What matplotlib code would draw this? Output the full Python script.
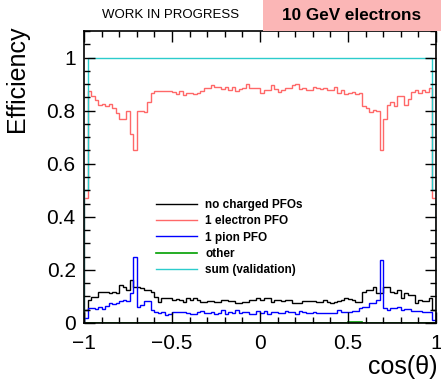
import numpy as np
import matplotlib
matplotlib.use('Agg')
import matplotlib.pyplot as plt
from matplotlib.ticker import MultipleLocator
from matplotlib.patches import Rectangle

plt.rcParams['font.family'] = ['Liberation Sans', 'DejaVu Sans']

# 100 bins in cos(theta), width 0.02
edges = np.linspace(-1, 1, 101)

#1 electron PFO
electron = [0.47,
    0.873, 0.855, 0.84, 0.823, 0.826, 0.818, 0.825, 0.81, 0.79, 0.77,
    0.77, 0.80, 0.713, 0.653, 0.797, 0.797, 0.795, 0.834, 0.868, 0.873,
    0.873, 0.875, 0.875, 0.875, 0.870, 0.862, 0.873, 0.860, 0.868, 0.868,
    0.864, 0.866, 0.873, 0.886, 0.886, 0.895, 0.89, 0.89, 0.882, 0.89,
    0.879, 0.89, 0.873, 0.882, 0.886, 0.90, 0.886, 0.884, 0.884, 0.867,
    0.879, 0.879, 0.895, 0.883, 0.872, 0.879, 0.886, 0.886, 0.895, 0.90,
    0.883, 0.886, 0.879, 0.879, 0.89, 0.886, 0.883, 0.886, 0.879, 0.879,
    0.89, 0.867, 0.876, 0.862, 0.867, 0.870, 0.862, 0.867, 0.816, 0.81,
    0.795, 0.804, 0.80, 0.653, 0.77, 0.82, 0.833, 0.816, 0.854, 0.854,
    0.823, 0.845, 0.87, 0.877, 0.867, 0.877, 0.87, 0.885, 0.47]

#no charged PFOs
nocharged = [0.05,
    0.085, 0.099, 0.099, 0.118, 0.115, 0.115, 0.113, 0.118, 0.113, 0.143,
    0.137, 0.125, 0.162, 0.137, 0.137, 0.131, 0.125, 0.125, 0.118, 0.099,
    0.08, 0.093, 0.093, 0.093, 0.087, 0.09, 0.087, 0.08, 0.095, 0.087,
    0.093, 0.087, 0.08, 0.08, 0.082, 0.084, 0.078, 0.078, 0.088, 0.088,
    0.082, 0.082, 0.074, 0.076, 0.08, 0.08, 0.087, 0.087, 0.093, 0.087,
    0.093, 0.093, 0.08, 0.087, 0.087, 0.082, 0.085, 0.087, 0.075, 0.075,
    0.077, 0.082, 0.082, 0.082, 0.084, 0.08, 0.08, 0.087, 0.08, 0.074,
    0.078, 0.082, 0.087, 0.093, 0.09, 0.087, 0.08, 0.08, 0.118, 0.125,
    0.125, 0.137, 0.112, 0.112, 0.137, 0.137, 0.118, 0.112, 0.125, 0.093,
    0.112, 0.106, 0.106, 0.074, 0.087, 0.084, 0.084, 0.093, 0.05]

#1 pion PFO
pion = [0.018,
    0.055, 0.057, 0.052, 0.06, 0.052, 0.064, 0.074, 0.07, 0.077, 0.083,
    0.087, 0.081, 0.112, 0.248, 0.062, 0.068, 0.081, 0.081, 0.049, 0.043,
    0.037, 0.04, 0.03, 0.033, 0.04, 0.042, 0.04, 0.04, 0.037, 0.035,
    0.033, 0.04, 0.047, 0.039, 0.039, 0.043, 0.034, 0.039, 0.049, 0.034,
    0.043, 0.036, 0.049, 0.039, 0.043, 0.043, 0.034, 0.034, 0.047, 0.036,
    0.047, 0.034, 0.043, 0.043, 0.036, 0.036, 0.047, 0.043, 0.043, 0.034,
    0.047, 0.043, 0.039, 0.039, 0.043, 0.039, 0.039, 0.039, 0.036, 0.036,
    0.039, 0.049, 0.043, 0.043, 0.043, 0.047, 0.047, 0.055, 0.062, 0.062,
    0.074, 0.077, 0.087, 0.237, 0.055, 0.049, 0.055, 0.055, 0.062, 0.049,
    0.052, 0.052, 0.045, 0.047, 0.047, 0.043, 0.043, 0.043, 0.011]

#other
other = [0.001]*75 + [0.003, 0.004, 0.004, 0.003] + [0.001]*21

#sum (validation)
total = [0.5] + [1.0]*98 + [0.5]

fig = plt.figure(figsize=(4.41, 3.79), dpi=100)
ax = fig.add_axes([84/441, 1-323/379, 352/441, 292/379])

ax.stairs(nocharged, edges, color='black', lw=1, label='no charged PFOs')
ax.stairs(electron, edges, color='#ff6868', lw=1, label='1 electron PFO')
ax.stairs(pion, edges, color='#0000ff', lw=1, label='1 pion PFO')
ax.stairs(other, edges, color='#00a000', lw=1.2, label='other')
ax.stairs(total, edges, color='#2ccccc', lw=1, label='sum (validation)')

ax.set_xlim(-1, 1)
ax.set_ylim(0, 1.1)
ax.xaxis.set_minor_locator(MultipleLocator(0.1))
ax.yaxis.set_minor_locator(MultipleLocator(0.05))
ax.set_xticks([-1, -0.5, 0, 0.5, 1])
ax.set_xticklabels(['\u22121', '\u22120.5', '0', '0.5', '1'])
ax.set_yticks([0, 0.2, 0.4, 0.6, 0.8, 1])
ax.set_yticklabels(['0', '0.2', '0.4', '0.6', '0.8', '1'])
ax.tick_params(which='both', direction='in', top=True, right=True, labelsize=15)
ax.tick_params(which='major', length=8, width=1)
ax.tick_params(which='minor', length=4.5, width=1)
ax.tick_params(axis='x', pad=8)
ax.tick_params(axis='y', pad=6)
for s in ax.spines.values():
    s.set_linewidth(1.2)

ax.set_ylabel('Efficiency', fontsize=18, loc='top')
ax.yaxis.set_label_coords(-0.155, 1.02)
ax.set_xlabel('cos(\u03b8)', fontsize=18, loc='right')
ax.xaxis.set_label_coords(1.003, -0.11)

ax.legend(loc='upper left', bbox_to_anchor=(0.19, 0.44), frameon=False,
          prop={'size': 8.5, 'weight': 'bold'}, handlelength=3.5,
          handletextpad=0.7, labelspacing=0.35, borderaxespad=0)

# header
fig.patches.append(Rectangle((263/441, 1-31/379), 178/441, 31/379,
                             transform=fig.transFigure, fc='#fbb6b6', ec='none'))
fig.text(102/441, 1-15/379, 'WORK IN PROGRESS', fontsize=9.5, va='center', ha='left')
fig.text(352/441, 1-15/379, '10 GeV electrons', fontsize=12.3, weight='bold',
         va='center', ha='center')

fig.savefig('out.png', dpi=100)
